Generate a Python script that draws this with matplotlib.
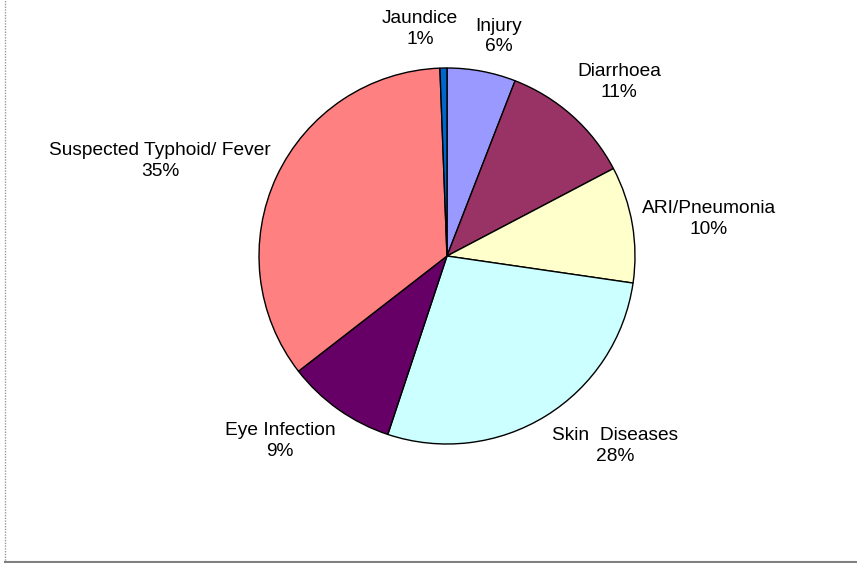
import matplotlib
matplotlib.use("Agg")
import matplotlib.pyplot as plt
from matplotlib.lines import Line2D
import numpy as np

categories = ["Injury", "Diarrhoea", "ARI/Pneumonia", "Skin  Diseases", "Eye Infection",
              "Suspected Typhoid/ Fever", "Jaundice"]
values = [5.9, 11.4, 10.0, 27.8, 9.4, 34.9, 0.6]
colors = ["#9999FF", "#993366", "#FFFFCC", "#CCFFFF", "#660066", "#FF8080", "#0066CC"]

# label placement (radius multiple, angle offset in degrees, clockwise from top)
label_dist = [1.20, 1.303, 1.407, 1.349, 1.326, 1.608, 1.216]
label_shift = [2.7, 2.84, 1.7, -9.8, 6.8, -6.7, -5.7]

plt.rcParams["font.family"] = ["Liberation Sans", "DejaVu Sans"]

W, H, dpi = 857, 563, 100
fig = plt.figure(figsize=(W / dpi, H / dpi), dpi=dpi)
ax = fig.add_axes([0, 0, 1, 1])
cx, cy, R = 447, 256, 188

wedges, _ = ax.pie(values, colors=colors, startangle=90, counterclock=False,
                   radius=1.0, center=(0, 0),
                   wedgeprops=dict(edgecolor="black", linewidth=1.0))
ax.set_xlim((0 - cx) / R, (W - cx) / R)
ax.set_ylim((cy - H) / R, (cy - 0) / R)
ax.axis("off")

total = sum(values)
cum = 0.0
for name, v, d, s in zip(categories, values, label_dist, label_shift):
    mid = (cum + v / 2) / total * 360.0 + s
    cum += v
    th = np.deg2rad(mid)
    x, y = d * np.sin(th), d * np.cos(th)
    ax.text(x, y, f"{name}\n{round(v):d}%", ha="center", va="center",
            fontsize=13.8, linespacing=1.3, color="#000000")

fig.add_artist(Line2D([5 / W, 5 / W], [0, 1], transform=fig.transFigure,
                      color="#999999", linewidth=1.0, linestyle=(0, (1, 1))))
fig.add_artist(Line2D([5 / W, 1], [1.5 / H, 1.5 / H], transform=fig.transFigure,
                      color="#808080", linewidth=1.5))

fig.savefig("out.png", dpi=dpi)
